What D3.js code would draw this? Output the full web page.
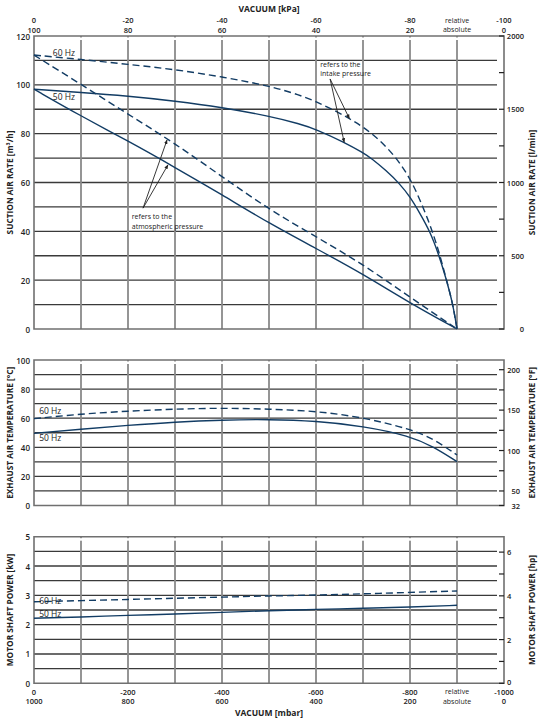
<!DOCTYPE html>
<html>
<head>
<meta charset="utf-8">
<script src="https://cdn.jsdelivr.net/npm/d3@7"></script>
<style>
  body { margin: 0; background: #fff; }
  text { font-family: "Open Sans", "Noto Sans", sans-serif; fill: #222; }
</style>
</head>
<body>
<div id="chart"></div>
<script>
// vacuum positions in mbar (relative); suction rate in m3/h
const vac60Intake = [0, 100, 200, 300, 400, 500, 566, 600, 638, 671, 700, 736, 772, 800, 820, 839, 850, 861, 875, 891, 900];
const rate60Intake = [112.2, 110.4, 108.4, 106.3, 103.3, 99.6, 95.8, 93.1, 89.7, 86.2, 82.8, 77.4, 69.9, 61.7, 53.5, 44.5, 38.5, 32, 22, 10.5, 0];
const vac50Intake = [0, 100, 200, 300, 400, 500, 566, 600, 660, 700, 718, 750, 777, 800, 821, 843, 861, 875, 891, 900];
const rate50Intake = [98.2, 96.9, 95.4, 93.4, 90.8, 87.2, 84, 81.8, 76.5, 72.2, 69.9, 64.8, 59.7, 54.2, 47.4, 39.8, 30.5, 21.8, 10.6, 0];

const atmVac = [0, 100, 200, 300, 400, 500, 600, 700, 800, 900];
const rate60Atm = [112.2, 100.2, 88, 76, 62.4, 49, 37.8, 26.5, 13, 0];
const rate50Atm = [98.2, 87.2, 77, 66.2, 55, 43.3, 33, 22.5, 10.6, 0];

const tempVac = [0, 100, 200, 300, 400, 500, 600, 700, 800, 850, 900];
const temp60 = [59.7, 62.9, 64.9, 66.3, 67, 66.3, 64.9, 60.6, 52.6, 45.9, 34.7];
const temp50 = [49.6, 52.4, 55.1, 57.4, 58.8, 59.2, 58.1, 54.6, 47.8, 40.4, 30.1];

const powVac = [0, 100, 200, 300, 400, 500, 600, 700, 800, 900];
const pow60 = [2.78, 2.82, 2.86, 2.9, 2.94, 2.98, 3.01, 3.05, 3.1, 3.15];
const pow50 = [2.22, 2.26, 2.32, 2.36, 2.42, 2.48, 2.52, 2.56, 2.6, 2.66];

// axis tick labels
const vacTickPos = [0, 200, 400, 600, 800, 900, 1000];
const kpaRel = ["0", "-20", "-40", "-60", "-80", "relative", "-100"];
const kpaAbs = ["100", "80", "60", "40", "20", "absolute", "0"];
const mbarRel = ["0", "-200", "-400", "-600", "-800", "relative", "-1000"];
const mbarAbs = ["1000", "800", "600", "400", "200", "absolute", "0"];
const gridVac = [100, 200, 300, 400, 500, 600, 700, 800, 900];

const W = 544, H = 723;
const navy = "#123c64";

const svg = d3.select("#chart").append("svg")
    .attr("width", W)
    .attr("height", H);

const defs = svg.append("defs");
defs.append("marker")
    .attr("id", "arrow")
    .attr("viewBox", "0 0 10 10")
    .attr("refX", 9).attr("refY", 5)
    .attr("markerWidth", 5).attr("markerHeight", 5)
    .attr("orient", "auto")
    .append("path")
    .attr("d", "M0,1 L10,5 L0,9 z")
    .attr("fill", "#222");

const x = d3.scaleLinear().domain([0, 1000]).range([34, 504]);
const gridRight = 497;

// panels: left scale, right scale, ticks
const panels = [
  {
    y: d3.scaleLinear().domain([0, 120]).range([329, 36]),
    y2: d3.scaleLinear().domain([0, 2000]).range([329, 36]),
    grid: d3.range(10, 120, 10),
    leftTicks: d3.range(0, 121, 20),
    rightMajor: [0, 500, 1000, 1500, 2000],
    rightMinor: [250, 750, 1250, 1750],
    rightAnchor: "end", rightX: 524,
    leftTitle: "SUCTION AIR RATE [m³/h]",
    rightTitle: "SUCTION AIR RATE  [l/min]"
  },
  {
    y: d3.scaleLinear().domain([0, 100]).range([505.5, 360]),
    y2: d3.scaleLinear().domain([32, 212]).range([505.5, 360]),
    grid: d3.range(10, 100, 10),
    leftTicks: d3.range(0, 101, 20),
    rightMajor: [32, 50, 100, 150, 200],
    rightMinor: [75, 125, 175],
    rightAnchor: "end", rightX: 520,
    leftTitle: "EXHAUST AIR TEMPERATURE [°C]",
    rightTitle: "EXHAUST AIR TEMPERATURE  [°F]"
  },
  {
    y: d3.scaleLinear().domain([0, 5]).range([683.3, 536.7]),
    y2: d3.scaleLinear().domain([0, 5 / 0.7457]).range([683.3, 536.7]),
    grid: d3.range(0.5, 5, 0.5),
    leftTicks: d3.range(0, 6, 1),
    rightMajor: [0, 2, 4, 6],
    rightMinor: [1, 3, 5],
    rightAnchor: "start", rightX: 507,
    leftTitle: "MOTOR SHAFT POWER  [kW]",
    rightTitle: "MOTOR SHAFT POWER  [hp]"
  }
];

panels.forEach(p => {
  const top = p.y.range()[1], bot = p.y.range()[0];
  const g = svg.append("g");

  // horizontal grid
  g.selectAll(".hg").data(p.grid).enter().append("line")
      .attr("x1", x(0)).attr("x2", gridRight)
      .attr("y1", d => p.y(d)).attr("y2", d => p.y(d))
      .attr("stroke", "#3a3a3a").attr("stroke-width", 1.3);

  // vertical grid
  g.selectAll(".vg").data(gridVac).enter().append("line")
      .attr("x1", d => x(d)).attr("x2", d => x(d))
      .attr("y1", top).attr("y2", bot)
      .attr("stroke", "#8a8a8a").attr("stroke-width", 1.8);
  g.selectAll(".gap").data(gridVac).enter().append("rect")
      .attr("x", d => x(d) - 1.5).attr("y", top + 1.5)
      .attr("width", 3).attr("height", 2.5)
      .attr("fill", "#fff");

  // frame
  g.append("path")
      .attr("d", `M${x(0)},${top} L${x(1000)},${top} L${x(1000)},${bot} L${x(0)},${bot} Z`)
      .attr("fill", "none").attr("stroke", "#707070").attr("stroke-width", 1.6);

  // left ticks
  g.selectAll(".lt").data(p.leftTicks).enter().append("text")
      .attr("x", 30).attr("y", d => p.y(d))
      .attr("text-anchor", "end").attr("dominant-baseline", "central")
      .attr("font-size", 8).attr("font-weight", 600)
      .text(d => d);

  // right ticks (inward)
  g.selectAll(".rt").data(p.rightMajor.concat(p.rightMinor)).enter().append("line")
      .attr("x1", x(1000) - 5).attr("x2", x(1000))
      .attr("y1", d => p.y2(d)).attr("y2", d => p.y2(d))
      .attr("stroke", "#222").attr("stroke-width", 1.2);
  g.selectAll(".rl").data(p.rightMajor).enter().append("text")
      .attr("x", p.rightX).attr("y", d => p.y2(d) - (p.rightAnchor === "start" && d === 0 ? 1.5 : 0))
      .attr("text-anchor", p.rightAnchor).attr("dominant-baseline", "central")
      .attr("font-size", 7.5).attr("font-weight", 600)
      .text(d => d);

  const mid = (top + bot) / 2;
  g.append("text")
      .attr("transform", `translate(9,${mid}) rotate(-90)`)
      .attr("text-anchor", "middle").attr("dominant-baseline", "central")
      .attr("font-size", 8.3).attr("font-weight", 700)
      .text(p.leftTitle);
  g.append("text")
      .attr("transform", `translate(531,${mid}) rotate(-90)`)
      .attr("text-anchor", "middle").attr("dominant-baseline", "central")
      .attr("font-size", 8.3).attr("font-weight", 700)
      .text(p.rightTitle);
});

// top and bottom axis labels
function axisText(xv, yv, txt, word) {
  svg.append("text").attr("x", x(xv)).attr("y", yv)
      .attr("text-anchor", "middle").attr("dominant-baseline", "central")
      .attr("font-size", word ? 7 : 7.5).attr("font-weight", word ? 400 : 600)
      .text(txt);
}
svg.append("text").attr("x", x(500)).attr("y", 8)
    .attr("text-anchor", "middle").attr("dominant-baseline", "central")
    .attr("font-size", 8.5).attr("font-weight", 700)
    .text("VACUUM  [kPa]");
vacTickPos.forEach((v, i) => {
  const word = i === 5;
  axisText(v, 20, kpaRel[i], word);
  axisText(v, 29.5, kpaAbs[i], word);
  axisText(v, 691.7, mbarRel[i], word);
  axisText(v, 701, mbarAbs[i], word);
});
svg.append("text").attr("x", x(500)).attr("y", 712.5)
    .attr("text-anchor", "middle").attr("dominant-baseline", "central")
    .attr("font-size", 8.5).attr("font-weight", 700)
    .text("VACUUM  [mbar]");

// curves
function drawCurve(xs, ys, yScale, dashed) {
  const line = d3.line()
      .x((d, i) => x(xs[i]))
      .y(d => yScale(d))
      .curve(d3.curveBasis);
  svg.append("path")
      .datum(ys)
      .attr("d", line)
      .attr("fill", "none")
      .attr("stroke", navy)
      .attr("stroke-width", 1.4)
      .attr("stroke-dasharray", dashed ? "7,4" : null);
}

const yRate = panels[0].y, yTemp = panels[1].y, yPow = panels[2].y;
drawCurve(vac60Intake, rate60Intake, yRate, true);
drawCurve(vac50Intake, rate50Intake, yRate, false);
drawCurve(atmVac, rate60Atm, yRate, true);
drawCurve(atmVac, rate50Atm, yRate, false);
drawCurve(tempVac, temp60, yTemp, true);
drawCurve(tempVac, temp50, yTemp, false);
drawCurve(powVac, pow60, yPow, true);
drawCurve(powVac, pow50, yPow, false);

// series labels
function label(v, val, yScale, txt) {
  svg.append("text")
      .attr("x", x(v)).attr("y", yScale(val))
      .attr("dominant-baseline", "central")
      .attr("font-size", 8.5)
      .text(txt);
}
label(40, 113.1, yRate, "60 Hz");
label(40, 95.4, yRate, "50 Hz");
label(11, 65, yTemp, "60 Hz");
label(11, 47, yTemp, "50 Hz");
label(11, 2.84, yPow, "60 Hz");
label(11, 2.39, yPow, "50 Hz");

// annotations
function note(v, val, lines) {
  lines.forEach((t, i) => {
    svg.append("text")
        .attr("x", x(v)).attr("y", yRate(val) + i * 9.5)
        .attr("dominant-baseline", "central")
        .attr("font-size", 7)
        .text(t);
  });
}
function arrow(from, to) {
  svg.append("line")
      .attr("x1", x(from[0])).attr("y1", yRate(from[1]))
      .attr("x2", x(to[0])).attr("y2", yRate(to[1]))
      .attr("stroke", "#222").attr("stroke-width", 0.9)
      .attr("marker-end", "url(#arrow)");
}
note(208, 46, ["refers to the", "atmospheric pressure"]);
arrow([232, 49.5], [283, 77.4]);
arrow([232, 49.5], [285, 67.2]);
note(609, 108.4, ["refers to the", "intake pressure"]);
arrow([630, 102.4], [671, 86.2]);
arrow([630, 102.4], [660, 76.5]);
</script>
</body>
</html>
